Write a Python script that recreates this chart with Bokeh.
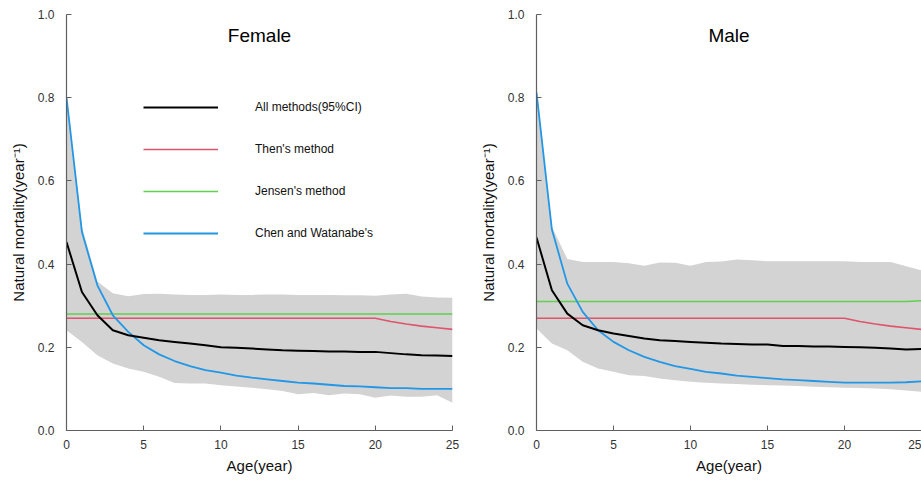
from bokeh.plotting import figure
from bokeh.layouts import row
from bokeh.models import FixedTicker, Legend, LegendItem, Label, PrintfTickFormatter, Range1d
from bokeh.embed import file_html
from bokeh.resources import INLINE

ages = list(range(0, 26))

# Female
f_all = [0.453, 0.333, 0.277, 0.241, 0.229, 0.223, 0.217, 0.213, 0.209, 0.205, 0.200, 0.199, 0.197,
         0.195, 0.193, 0.192, 0.191, 0.190, 0.190, 0.189, 0.189, 0.186, 0.183, 0.181, 0.180, 0.179]
f_then = [0.27] * 21 + [0.262, 0.256, 0.251, 0.247, 0.243]
f_jensen = [0.28] * 26
f_chen = [0.801, 0.477, 0.349, 0.277, 0.237, 0.205, 0.183, 0.167, 0.155, 0.145, 0.139, 0.132, 0.127,
          0.123, 0.119, 0.115, 0.113, 0.110, 0.107, 0.106, 0.104, 0.102, 0.102, 0.100, 0.100, 0.100]
f_upper = [0.800, 0.490, 0.358, 0.330, 0.323, 0.328, 0.329, 0.327, 0.326, 0.326, 0.327, 0.326, 0.326,
           0.327, 0.327, 0.326, 0.326, 0.326, 0.325, 0.325, 0.324, 0.327, 0.329, 0.322, 0.320, 0.319]
f_lower = [0.241, 0.213, 0.181, 0.161, 0.149, 0.141, 0.129, 0.114, 0.113, 0.113, 0.109, 0.106, 0.103,
           0.099, 0.095, 0.087, 0.090, 0.085, 0.089, 0.087, 0.079, 0.084, 0.081, 0.081, 0.085, 0.067]

# Male
m_all = [0.464, 0.337, 0.281, 0.253, 0.241, 0.233, 0.227, 0.221, 0.217, 0.215, 0.213, 0.211, 0.209,
         0.208, 0.207, 0.207, 0.203, 0.203, 0.202, 0.202, 0.201, 0.200, 0.199, 0.197, 0.195, 0.196]
m_then = [0.27] * 21 + [0.262, 0.256, 0.251, 0.247, 0.243]
m_jensen = [0.31] * 25 + [0.312]
m_chen = [0.813, 0.483, 0.353, 0.285, 0.241, 0.213, 0.193, 0.177, 0.165, 0.155, 0.148, 0.141, 0.137,
          0.132, 0.129, 0.126, 0.123, 0.121, 0.119, 0.117, 0.115, 0.115, 0.115, 0.115, 0.116, 0.118]
m_upper = [0.813, 0.490, 0.412, 0.405, 0.405, 0.405, 0.402, 0.396, 0.404, 0.403, 0.396, 0.405, 0.406,
           0.411, 0.409, 0.407, 0.407, 0.407, 0.407, 0.407, 0.407, 0.405, 0.405, 0.405, 0.395, 0.385]
m_lower = [0.245, 0.209, 0.193, 0.165, 0.149, 0.141, 0.133, 0.131, 0.125, 0.121, 0.117, 0.115, 0.113,
           0.112, 0.110, 0.109, 0.108, 0.107, 0.105, 0.104, 0.103, 0.102, 0.101, 0.099, 0.096, 0.093]

x_ticks = [0, 5, 10, 15, 20, 25]
y_ticks = [0.0, 0.2, 0.4, 0.6, 0.8, 1.0]
legend_labels = ["All methods(95%CI)", "Then's method", "Jensen's method", "Chen and Watanabe's"]
colors = ["black", "#DF536B", "#61D04F", "#2297E6"]
band_color = "#D3D3D3"
FONT = "Liberation Sans"


def make_panel(title, allm, then, jensen, chen, upper, lower, width, border_left, border_right, legend):
    p = figure(width=width, height=482, output_backend="svg", toolbar_location=None,
               x_range=Range1d(0, 25), y_range=Range1d(0, 1.0),
               min_border_left=border_left, min_border_right=border_right,
               min_border_top=14, min_border_bottom=52)
    p.outline_line_color = None
    p.grid.visible = False
    p.background_fill_color = "white"
    p.border_fill_color = "white"

    p.varea(x=ages, y1=lower, y2=upper, fill_color=band_color, fill_alpha=1.0)
    r_then = p.line(ages, then, line_color=colors[1], line_width=1.6)
    r_jen = p.line(ages, jensen, line_color=colors[2], line_width=1.6)
    r_chen = p.line(ages, chen, line_color=colors[3], line_width=1.8)
    r_all = p.line(ages, allm, line_color=colors[0], line_width=2)

    for ax in (p.xaxis[0], p.yaxis[0]):
        ax.axis_line_color = "#606060"
        ax.axis_line_width = 1.2
        ax.major_tick_line_color = "#606060"
        ax.major_tick_in = 5
        ax.major_tick_out = 0
        ax.minor_tick_line_color = None
        ax.major_label_text_font = FONT
        ax.major_label_text_font_size = "12px"
        ax.major_label_text_color = "#333333"
        ax.axis_label_text_font = FONT
        ax.axis_label_text_font_size = "15px"
        ax.axis_label_text_font_style = "normal"
        ax.axis_label_text_color = "#111111"

    p.xaxis.ticker = FixedTicker(ticks=x_ticks)
    p.yaxis.ticker = FixedTicker(ticks=y_ticks)
    p.yaxis.formatter = PrintfTickFormatter(format="%.1f")
    p.xaxis.axis_label = "Age(year)"
    p.yaxis.axis_label = "Natural mortality(year\u207b\u00b9)"
    p.xaxis.major_label_standoff = 9
    p.xaxis.axis_label_standoff = 5
    p.yaxis.major_label_standoff = 12
    p.yaxis.axis_label_standoff = 8

    p.add_layout(Label(x=12.5, y=0.95, text=title, text_align="center", text_baseline="middle",
                       text_font=FONT, text_font_size="19px", text_color="black"))

    if legend:
        items = [LegendItem(label=legend_labels[i], renderers=[r])
                 for i, r in enumerate([r_all, r_then, r_jen, r_chen])]
        leg = Legend(items=items, location=(77, 187), orientation="vertical",
                     glyph_width=75, glyph_height=20, label_height=20, spacing=22,
                     label_standoff=37, padding=0, margin=0,
                     border_line_color=None, background_fill_alpha=0,
                     label_text_font=FONT, label_text_font_size="12px", label_text_color="#111111")
        p.add_layout(leg, "center")
    return p


p1 = make_panel("Female", f_all, f_then, f_jensen, f_chen, f_upper, f_lower, 470, 66, 18, True)
p2 = make_panel("Male", m_all, m_then, m_jensen, m_chen, m_upper, m_lower, 451, 66, 0, False)

layout = row(p1, p2)
open("out.html", "w").write(file_html(layout, INLINE))
